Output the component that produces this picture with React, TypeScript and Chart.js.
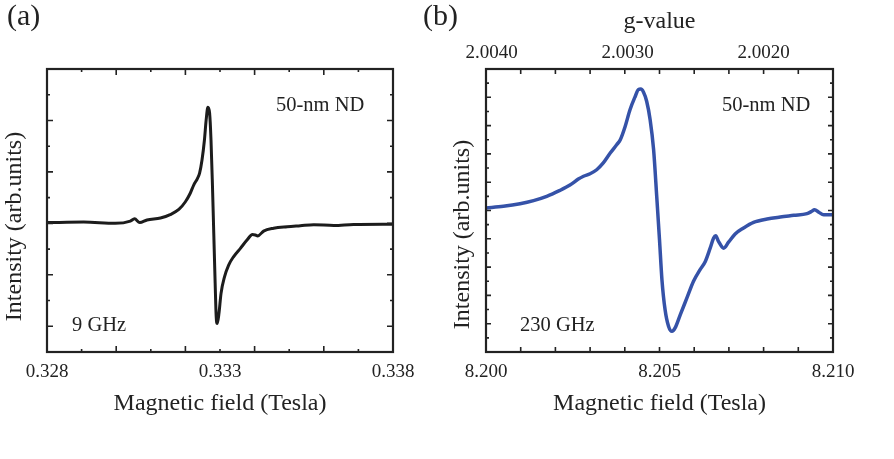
import { useEffect, useRef } from 'react';
import { Chart, registerables } from 'chart.js';

Chart.register(...registerables);

// ---- 9 GHz spectrum (panel a) ----
const fieldA = [
  0.328, 0.32906, 0.32997, 0.33041, 0.33053, 0.33068, 0.33089, 0.33128, 0.33156, 0.33181,
  0.332, 0.33214, 0.33224, 0.33235, 0.33241, 0.33248, 0.33255, 0.3326, 0.33265, 0.3327,
  0.33274, 0.33278, 0.33282, 0.33286, 0.33289, 0.33292, 0.33297, 0.33303, 0.33313, 0.33325,
  0.33339, 0.33359, 0.33378, 0.33394, 0.33402, 0.33409, 0.33426, 0.33455, 0.33494, 0.33532,
  0.33571, 0.33629, 0.33686, 0.338,
];
const intensityA = [
  0.03, 0.05, 0.0, 0.09, 0.18, 0.03, 0.13, 0.21, 0.34, 0.54,
  0.84, 1.17, 1.49, 1.75, 1.95, 2.46, 3.24, 4.02, 4.51, 4.28,
  3.24, 1.56, -0.39, -2.33, -3.63, -3.89, -3.5, -2.72, -2.08, -1.62,
  -1.3, -0.97, -0.65, -0.43, -0.45, -0.49, -0.3, -0.19, -0.13, -0.09,
  -0.05, -0.08, -0.04, -0.03,
];

// ---- 230 GHz spectrum (panel b) ----
const fieldB = [
  8.2, 8.2005, 8.20098, 8.20137, 8.20175, 8.20213, 8.20242, 8.20266, 8.20281, 8.203,
  8.20319, 8.20338, 8.20358, 8.20377, 8.20387, 8.20401, 8.20415, 8.2043, 8.20439, 8.20446,
  8.20454, 8.20463, 8.20473, 8.20483, 8.20492, 8.205, 8.20507, 8.20516, 8.20526, 8.20536,
  8.20545, 8.2056, 8.20579, 8.20598, 8.20617, 8.20632, 8.20646, 8.20656, 8.20662, 8.2067,
  8.20685, 8.20699, 8.20718, 8.20742, 8.20771, 8.2081, 8.20848, 8.20887, 8.20925, 8.20937,
  8.20947, 8.20959, 8.20973, 8.21,
];
const intensityB = [
  0.09, 0.15, 0.24, 0.35, 0.5, 0.71, 0.9, 1.11, 1.21, 1.3,
  1.44, 1.68, 2.03, 2.33, 2.5, 2.97, 3.56, 4.03, 4.27, 4.29,
  4.18, 3.86, 3.21, 2.15, 0.5, -1.03, -2.44, -3.5, -4.09, -4.27,
  -4.15, -3.68, -3.09, -2.5, -2.09, -1.8, -1.33, -0.97, -0.89, -1.09,
  -1.33, -1.12, -0.83, -0.62, -0.42, -0.3, -0.23, -0.17, -0.11, -0.04,
  0.03, -0.06, -0.15, -0.15,
];

// ---- axis labels and tick marks ----
const fieldLabelsA = [0.328, 0.333, 0.338];
const fieldLabelsB = [8.2, 8.205, 8.21];
const gLabelsB = [2.004, 2.003, 2.002];

const fieldMarksA = [0.328, 0.329, 0.33, 0.331, 0.332, 0.333, 0.334, 0.335, 0.336, 0.337, 0.338];
const intensityMarksA = [-5, -4, -3, -2, -1, 0, 1, 2, 3, 4, 5, 6];
const fieldMarksB = [8.2, 8.201, 8.202, 8.203, 8.204, 8.205, 8.206, 8.207, 8.208, 8.209, 8.21];
const intensityMarksB = [
  -5, -4.5, -4, -3.5, -3, -2.5, -2, -1.5, -1, -0.5, 0, 0.5, 1, 1.5, 2, 2.5, 3, 3.5, 4, 4.5, 5,
];

const SERIF = '"Liberation Serif", "Times New Roman", serif';
const INK = '#222222';
const BLUE = '#3552a8';
const H = 459;

type MarkSpec = {
  xMarks: number[];
  yMarks: number[];
  isMajorX: (v: number, i: number) => boolean;
  isMajorY: (v: number, i: number) => boolean;
  major: number;
  minor: number;
};

// Closed frame around the plot area with inward-pointing ticks on all four sides.
function frameWithTicks(spec: MarkSpec) {
  return {
    id: 'frameWithTicks',
    afterDatasetsDraw(chart: any) {
      const { ctx, chartArea, scales } = chart;
      const { left, right, top, bottom } = chartArea;
      ctx.save();
      ctx.strokeStyle = INK;
      ctx.lineWidth = 1.6;
      ctx.beginPath();
      spec.xMarks.forEach((v, i) => {
        const px = scales.x.getPixelForValue(v);
        const len = spec.isMajorX(v, i) ? spec.major : spec.minor;
        ctx.moveTo(px, bottom);
        ctx.lineTo(px, bottom - len);
        ctx.moveTo(px, top);
        ctx.lineTo(px, top + len);
      });
      spec.yMarks.forEach((v, i) => {
        const py = scales.y.getPixelForValue(v);
        const len = spec.isMajorY(v, i) ? spec.major : spec.minor;
        ctx.moveTo(left, py);
        ctx.lineTo(left + len, py);
        ctx.moveTo(right, py);
        ctx.lineTo(right - len, py);
      });
      ctx.stroke();
      ctx.lineWidth = 2.2;
      ctx.strokeRect(left, top, right - left, bottom - top);
      ctx.restore();
    },
  };
}

type TextItem = {
  text: string;
  x: number;
  y: number;
  size: number;
  inArea?: boolean;
  rotate?: number;
  align?: CanvasTextAlign;
};

// Panel letter, rotated intensity title and in-plot annotations.
function textLayer(items: TextItem[]) {
  return {
    id: 'textLayer',
    afterDraw(chart: any) {
      const { ctx, chartArea } = chart;
      items.forEach((it) => {
        ctx.save();
        ctx.font = `${it.size}px ${SERIF}`;
        ctx.fillStyle = INK;
        ctx.textAlign = it.align ?? 'left';
        ctx.textBaseline = 'middle';
        const x = it.inArea ? chartArea.left + it.x : it.x;
        const y = it.inArea ? chartArea.top + it.y : it.y;
        ctx.translate(x, y);
        if (it.rotate) ctx.rotate(it.rotate);
        ctx.fillText(it.text, 0, 0);
        ctx.restore();
      });
    },
  };
}

const tickFont = { family: SERIF, size: 19 };
const titleFont = { family: SERIF, size: 24 };

// Keep the plot area fixed: labels may hang past the frame without shrinking it.
function noOverhang(s: any) {
  s.paddingLeft = 0;
  s.paddingRight = 0;
  s.paddingTop = 0;
  s.paddingBottom = 0;
}

function fieldAxis(min: number, max: number, labels: number[], digits: number) {
  return {
    type: 'linear' as const,
    position: 'bottom' as const,
    min,
    max,
    grid: { display: false, drawTicks: false },
    border: { display: false },
    afterBuildTicks: (s: any) => {
      s.ticks = labels.map((value) => ({ value }));
    },
    afterFit: (s: any) => {
      s.height = 107;
      noOverhang(s);
    },
    ticks: {
      font: tickFont,
      color: INK,
      padding: 9,
      maxRotation: 0,
      autoSkip: false,
      callback: (v: any) => Number(v).toFixed(digits),
    },
    title: {
      display: true,
      text: 'Magnetic field (Tesla)',
      font: titleFont,
      color: INK,
      padding: { top: 0, bottom: 41 },
    },
  };
}

function intensityAxis(min: number, max: number, width: number) {
  return {
    type: 'linear' as const,
    min,
    max,
    grid: { display: false, drawTicks: false },
    border: { display: false },
    ticks: { display: false },
    afterFit: (s: any) => {
      s.width = width;
      noOverhang(s);
    },
  };
}

function buildA() {
  return {
    type: 'line' as const,
    data: {
      datasets: [
        {
          data: fieldA.map((x, i) => ({ x, y: intensityA[i] })),
          borderColor: '#1c1c1c',
          borderWidth: 3,
          pointRadius: 0,
          cubicInterpolationMode: 'monotone' as const,
          fill: false,
        },
      ],
    },
    options: {
      animation: false as const,
      responsive: false,
      maintainAspectRatio: false,
      layout: { padding: { top: 69, right: 27, left: 0, bottom: 0 } },
      plugins: { legend: { display: false }, tooltip: { enabled: false } },
      scales: {
        x: fieldAxis(0.328, 0.338, fieldLabelsA, 3),
        y: intensityAxis(-5, 6, 47),
      },
    },
    plugins: [
      frameWithTicks({
        xMarks: fieldMarksA,
        yMarks: intensityMarksA,
        isMajorX: (_v, i) => i % 2 === 0,
        isMajorY: (v) => Math.abs(v) % 2 === 0,
        major: 6,
        minor: 3,
      }),
      textLayer([
        { text: '(a)', x: 7, y: 17.5, size: 30 },
        { text: 'Intensity (arb.units)', x: 15, y: 226.5, size: 24, rotate: -Math.PI / 2, align: 'center' },
        { text: '50-nm ND', x: 229, y: 36.5, size: 20.5, inArea: true },
        { text: '9 GHz', x: 25, y: 256.5, size: 20.5, inArea: true },
      ]),
    ],
  };
}

function buildB() {
  return {
    type: 'line' as const,
    data: {
      datasets: [
        {
          data: fieldB.map((x, i) => ({ x, y: intensityB[i] })),
          borderColor: BLUE,
          borderWidth: 3.5,
          pointRadius: 0,
          cubicInterpolationMode: 'monotone' as const,
          fill: false,
          xAxisID: 'x',
          yAxisID: 'y',
        },
      ],
    },
    options: {
      animation: false as const,
      responsive: false,
      maintainAspectRatio: false,
      layout: { padding: { top: 0, right: 61, left: 0, bottom: 0 } },
      plugins: { legend: { display: false }, tooltip: { enabled: false } },
      scales: {
        x: fieldAxis(8.2, 8.21, fieldLabelsB, 3),
        g: {
          type: 'linear' as const,
          position: 'top' as const,
          reverse: true,
          min: 2.00149,
          max: 2.004042,
          grid: { display: false, drawTicks: false },
          border: { display: false },
          afterBuildTicks: (s: any) => {
            s.ticks = gLabelsB.map((value) => ({ value }));
          },
          afterFit: (s: any) => {
            s.height = 69;
            noOverhang(s);
          },
          ticks: {
            font: tickFont,
            color: INK,
            padding: 4.5,
            maxRotation: 0,
            autoSkip: false,
            callback: (v: any) => Number(v).toFixed(4),
          },
          title: {
            display: true,
            text: 'g-value',
            font: titleFont,
            color: INK,
            padding: { top: 7.6, bottom: 0 },
          },
        },
        y: intensityAxis(-5, 5, 66),
      },
    },
    plugins: [
      frameWithTicks({
        xMarks: fieldMarksB,
        yMarks: intensityMarksB,
        isMajorX: () => true,
        isMajorY: (v) => Number.isInteger(v),
        major: 5,
        minor: 3,
      }),
      textLayer([
        { text: '(b)', x: 3, y: 17.5, size: 30 },
        { text: 'Intensity (arb.units)', x: 42.5, y: 234.5, size: 24, rotate: -Math.PI / 2, align: 'center' },
        { text: '50-nm ND', x: 236, y: 36.5, size: 20.5, inArea: true },
        { text: '230 GHz', x: 34, y: 256.5, size: 20.5, inArea: true },
      ]),
    ],
  };
}

function SpectrumPanel({ left, width, build }: { left: number; width: number; build: () => any }) {
  const ref = useRef<HTMLCanvasElement>(null);
  useEffect(() => {
    const chart = new Chart(ref.current as HTMLCanvasElement, build());
    return () => chart.destroy();
  }, [build]);
  return (
    <canvas
      ref={ref}
      width={width}
      height={H}
      style={{ position: 'absolute', left, top: 0, width, height: H }}
    />
  );
}

export default function App() {
  return (
    <div style={{ position: 'fixed', left: 0, top: 0, width: 894, height: H, background: '#ffffff' }}>
      <SpectrumPanel left={0} width={420} build={buildA} />
      <SpectrumPanel left={420} width={474} build={buildB} />
    </div>
  );
}
